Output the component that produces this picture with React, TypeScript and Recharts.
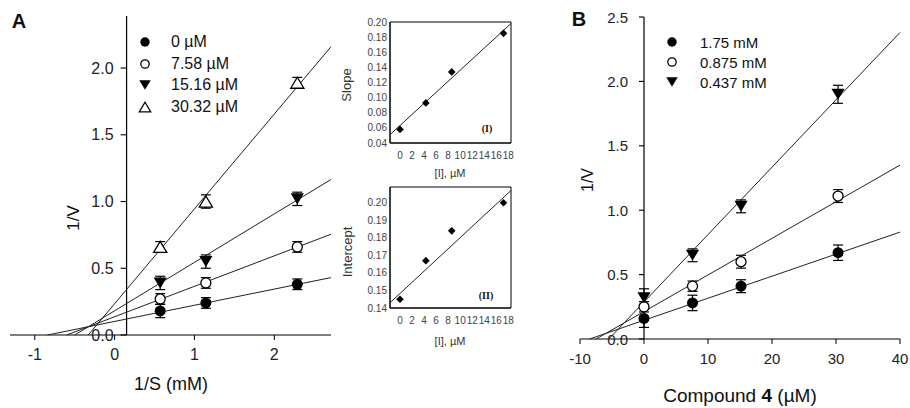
import React from 'react';
import { ScatterChart, Scatter, XAxis, YAxis, ErrorBar, ReferenceLine, ReferenceArea } from 'recharts';

const SANS = '"Liberation Sans", Arial, sans-serif';

// ---- panel A: 1/V vs 1/S at four inhibitor levels ----
const invSubstrate = [0.571, 1.143, 2.288];
const inhibitorNames = ['0 µM', '7.58 µM', '15.16 µM', '30.32 µM'];
const rateI0 = [0.18, 0.24, 0.38];
const rateI758 = [0.27, 0.39, 0.66];
const rateI1516 = [0.39, 0.55, 1.02];
const rateI3032 = [0.66, 1.0, 1.89];
const errI0 = [0.05, 0.04, 0.04];
const errI758 = [0.04, 0.04, 0.04];
const errI1516 = [0.05, 0.05, 0.05];
const errI3032 = [0.04, 0.05, 0.04];
// fitted lines: start / end points
const fitAX = [[-0.84, 2.71], [-0.6, 2.71], [-0.5, 2.71], [-0.33, 2.71]];
const fitAY = [[0, 0.43], [0, 0.755], [0, 1.165], [0, 2.16]];
const aXTicks = [-1, 0, 1, 2];
const aYTicks = [0, 0.5, 1, 1.5, 2];
const aXDomain = [-1.31, 2.71];
const aYDomain = [0, 2.39];
const aYAxisAt = 0.15;

// ---- insets: secondary plots ----
const insetConc = [0, 4.3, 8.6, 17.2];
const slopeVals = [0.058, 0.093, 0.134, 0.185];
const interceptVals = [0.145, 0.167, 0.184, 0.2];
const insetFitX = [-1.66, 18.45];
const slopeFitY = [0.051, 0.198];
const interceptFitY = [0.143, 0.207];
const insetXTicks = [0, 2, 4, 6, 8, 10, 12, 14, 16, 18];
const slopeTicks = [0.04, 0.06, 0.08, 0.1, 0.12, 0.14, 0.16, 0.18, 0.2];
const interceptTicks = [0.14, 0.15, 0.16, 0.17, 0.18, 0.19, 0.2];
const insetXDomain = [-1.66, 18.45];

// ---- panel B: 1/V vs compound 4 at three substrate levels ----
const compound = [0, 7.58, 15.16, 30.32];
const substrateNames = ['1.75 mM', '0.875 mM', '0.437 mM'];
const rateS175 = [0.16, 0.28, 0.41, 0.67];
const rateS0875 = [0.25, 0.41, 0.6, 1.11];
const rateS0437 = [0.32, 0.65, 1.03, 1.9];
const errS175 = [0.07, 0.06, 0.05, 0.06];
const errS0875 = [0.04, 0.04, 0.05, 0.05];
const errS0437 = [0.07, 0.05, 0.05, 0.07];
const fitBX = [[-8.5, 40], [-7.5, 40], [-5.5, 40]];
const fitBY = [[0, 0.83], [0, 1.35], [0, 2.38]];
const bXTicks = [-10, 0, 10, 20, 30, 40];
const bYTicks = [0, 0.5, 1, 1.5, 2, 2.5];
const bXDomain = [-10, 40];
const bYAxisAt = 0;

type Kind = 'dot' | 'ring' | 'down' | 'up' | 'diamond';

const toPts = (xs: number[], ys: number[], es?: number[]) =>
  xs.map((x, i) => ({ x, y: ys[i], err: es ? es[i] : 0 }));

const Marker = ({ kind, cx, cy, s = 6 }: { kind: Kind; cx: number; cy: number; s?: number }) => {
  if (kind === 'dot') return <circle cx={cx} cy={cy} r={s - 0.5} fill="#000" />;
  if (kind === 'ring') return <circle cx={cx} cy={cy} r={s - 1} fill="#fff" stroke="#000" strokeWidth={1.3} />;
  if (kind === 'diamond')
    return <polygon points={`${cx},${cy - s} ${cx + s},${cy} ${cx},${cy + s} ${cx - s},${cy}`} fill="#000" />;
  const h = s * 0.92;
  const w = s * 1.1;
  if (kind === 'down')
    return <polygon points={`${cx - w},${cy - h} ${cx + w},${cy - h} ${cx},${cy + h}`} fill="#000" />;
  return (
    <polygon
      points={`${cx - w},${cy + h} ${cx + w},${cy + h} ${cx},${cy - h}`}
      fill="#fff"
      stroke="#000"
      strokeWidth={1.3}
    />
  );
};

// y ticks drawn at an inner vertical axis (the axis does not sit on the plot edge)
const shiftedTick = (shift: number, len: number, gap: number, fs: number) => (p: any) => {
  const ax = p.x + shift;
  return (
    <g>
      <line x1={ax - len} x2={ax} y1={p.y} y2={p.y} stroke="#000" strokeWidth={1.1} />
      <text x={ax - len - gap} y={p.y} textAnchor="end" dominantBaseline="central" fontSize={fs} fill="#222">
        {Number(p.payload.value).toFixed(1)}
      </text>
    </g>
  );
};

const Txt = ({ x, y, size, rot, bold, serif, color = '#111', children }: any) => (
  <div
    style={{
      position: 'absolute',
      left: x,
      top: y,
      transform: `translate(-50%, -50%)${rot ? ` rotate(${rot}deg)` : ''}`,
      fontSize: size,
      fontWeight: bold ? 700 : 400,
      fontFamily: serif ? '"Liberation Serif", serif' : SANS,
      lineHeight: 1,
      whiteSpace: 'nowrap',
      color,
    }}
  >
    {children}
  </div>
);

const KeyBox = ({ left, top, rowH, gap, fs, names, kinds }: any) => (
  <div style={{ position: 'absolute', left, top, fontSize: fs, color: '#111' }}>
    {names.map((n: string, i: number) => (
      <div key={n} style={{ display: 'flex', alignItems: 'center', height: rowH }}>
        <svg width={14} height={14} style={{ display: 'block' }}>
          <Marker kind={kinds[i]} cx={7} cy={7} s={5.2} />
        </svg>
        <span style={{ marginLeft: gap, lineHeight: 1 }}>{n}</span>
      </div>
    ))}
  </div>
);

const emptyShape = () => <g />;
const lineStyle = { stroke: '#222', strokeWidth: 1 };

const PanelA = () => {
  const W = 345;
  const plotW = W - 10 - 14;
  const shift = ((aYAxisAt - aXDomain[0]) / (aXDomain[1] - aXDomain[0])) * plotW;
  const rates = [rateI0, rateI758, rateI1516, rateI3032];
  const errs = [errI0, errI758, errI1516, errI3032];
  const kinds: Kind[] = ['dot', 'ring', 'down', 'up'];
  return (
    <ScatterChart width={W} height={408} margin={{ top: 16, right: 14, bottom: 0, left: 0 }}>
      <XAxis
        type="number"
        dataKey="x"
        domain={aXDomain}
        ticks={aXTicks}
        interval={0}
        height={73}
        tickSize={5}
        tickMargin={9}
        axisLine={{ stroke: '#000', strokeWidth: 1.2 }}
        tickLine={{ stroke: '#000' }}
        tick={{ fontSize: 16, fill: '#222' }}
      />
      <YAxis
        type="number"
        dataKey="y"
        domain={aYDomain}
        ticks={aYTicks}
        interval={0}
        width={10}
        axisLine={false}
        tickLine={false}
        tickSize={0}
        tickMargin={0}
        tick={shiftedTick(shift, 6, 7, 16)}
      />
      <ReferenceLine x={aYAxisAt} stroke="#000" strokeWidth={1.2} />
      {fitAX.map((xs, i) => (
        <Scatter
          key={'fa' + i}
          data={toPts(xs, fitAY[i])}
          line={lineStyle}
          shape={emptyShape}
          legendType="none"
          isAnimationActive={false}
        />
      ))}
      {rates.map((r, i) => (
        <Scatter
          key={'pa' + i}
          name={inhibitorNames[i]}
          data={toPts(invSubstrate, r, errs[i])}
          shape={(p: any) => <Marker kind={kinds[i]} cx={p.cx} cy={p.cy} />}
          isAnimationActive={false}
        >
          <ErrorBar dataKey="err" direction="y" width={5} stroke="#000" strokeWidth={1.2} />
        </Scatter>
      ))}
    </ScatterChart>
  );
};

const Inset = ({ vals, ticks, domain, fitY }: any) => (
  <ScatterChart width={180} height={190} margin={{ top: 22, right: 9, bottom: 0, left: 10 }}>
    <XAxis
      type="number"
      dataKey="x"
      domain={insetXDomain}
      ticks={insetXTicks}
      interval={0}
      height={47}
      axisLine={{ stroke: '#000' }}
      tickLine={false}
      tickSize={4}
      tickMargin={5}
      tick={{ fontSize: 10, fill: '#444' }}
    />
    <YAxis
      type="number"
      dataKey="y"
      domain={domain}
      ticks={ticks}
      interval={0}
      width={40}
      axisLine={{ stroke: '#000' }}
      tickLine={false}
      tickSize={0}
      tickMargin={3}
      tick={{ fontSize: 10, fill: '#444' }}
      tickFormatter={(v: number) => v.toFixed(2)}
    />
    <ReferenceArea
      x1={insetXDomain[0]}
      x2={insetXDomain[1]}
      y1={domain[0]}
      y2={domain[1]}
      fill="none"
      fillOpacity={0}
      stroke="#000"
      strokeWidth={1}
    />
    <Scatter data={toPts(insetFitX, fitY)} line={lineStyle} shape={emptyShape} legendType="none" isAnimationActive={false} />
    <Scatter
      data={toPts(insetConc, vals)}
      shape={(p: any) => <Marker kind="diamond" cx={p.cx} cy={p.cy} s={3.8} />}
      isAnimationActive={false}
    />
  </ScatterChart>
);

const PanelB = () => {
  const W = 350;
  const plotW = W - 20 - 10;
  const shift = ((bYAxisAt - bXDomain[0]) / (bXDomain[1] - bXDomain[0])) * plotW;
  const rates = [rateS175, rateS0875, rateS0437];
  const errs = [errS175, errS0875, errS0437];
  const kinds: Kind[] = ['dot', 'ring', 'down'];
  return (
    <ScatterChart width={W} height={408} margin={{ top: 17, right: 10, bottom: 0, left: 0 }}>
      <XAxis
        type="number"
        dataKey="x"
        domain={bXDomain}
        ticks={bXTicks}
        interval={0}
        height={69}
        tickSize={5}
        tickMargin={9}
        axisLine={{ stroke: '#000', strokeWidth: 1.2 }}
        tickLine={{ stroke: '#000' }}
        tick={{ fontSize: 15, fill: '#222' }}
      />
      <YAxis
        type="number"
        dataKey="y"
        domain={[0, 2.5]}
        ticks={bYTicks}
        interval={0}
        width={20}
        axisLine={false}
        tickLine={false}
        tickSize={0}
        tickMargin={0}
        tick={shiftedTick(shift, 5, 11, 15)}
      />
      <ReferenceLine x={bYAxisAt} stroke="#000" strokeWidth={1.2} />
      {fitBX.map((xs, i) => (
        <Scatter
          key={'fb' + i}
          data={toPts(xs, fitBY[i])}
          line={lineStyle}
          shape={emptyShape}
          legendType="none"
          isAnimationActive={false}
        />
      ))}
      {rates.map((r, i) => (
        <Scatter
          key={'pb' + i}
          name={substrateNames[i]}
          data={toPts(compound, r, errs[i])}
          shape={(p: any) => <Marker kind={kinds[i]} cx={p.cx} cy={p.cy} />}
          isAnimationActive={false}
        >
          <ErrorBar dataKey="err" direction="y" width={5} stroke="#000" strokeWidth={1.2} />
        </Scatter>
      ))}
    </ScatterChart>
  );
};

export default function App() {
  return (
    <div
      style={{
        position: 'absolute',
        left: 0,
        top: 0,
        width: 910,
        height: 408,
        background: '#fff',
        fontFamily: SANS,
        overflow: 'hidden',
      }}
    >
      <div style={{ position: 'absolute', left: 0, top: 0 }}>
        <PanelA />
      </div>
      <div style={{ position: 'absolute', left: 340, top: 0 }}>
        <Inset vals={slopeVals} ticks={slopeTicks} domain={[0.04, 0.2]} fitY={slopeFitY} />
      </div>
      <div style={{ position: 'absolute', left: 340, top: 165 }}>
        <Inset vals={interceptVals} ticks={interceptTicks} domain={[0.14, 0.209]} fitY={interceptFitY} />
      </div>
      <div style={{ position: 'absolute', left: 560, top: 0 }}>
        <PanelB />
      </div>

      <KeyBox left={138} top={31} rowH={21.7} gap={19} fs={16} names={inhibitorNames} kinds={['dot', 'ring', 'down', 'up']} />
      <KeyBox left={665} top={32} rowH={20} gap={21} fs={15} names={substrateNames} kinds={['dot', 'ring', 'down']} />

      <Txt x={19} y={21} size={20} bold>A</Txt>
      <Txt x={579} y={19} size={20} bold>B</Txt>
      <Txt x={73} y={218} size={17} rot={-90}>1/V</Txt>
      <Txt x={588} y={180} size={16} rot={-90}>1/V</Txt>
      <Txt x={171} y={384} size={18}>1/S (mM)</Txt>
      <Txt x={740} y={395} size={19}>
        Compound <b>4</b> (µM)
      </Txt>
      <Txt x={346} y={85} size={13} rot={-90} color="#333">Slope</Txt>
      <Txt x={347} y={252} size={13} rot={-90} color="#333">Intercept</Txt>
      <Txt x={450} y={173} size={11} color="#333">[I], µM</Txt>
      <Txt x={450} y={341} size={11} color="#333">[I], µM</Txt>
      <Txt x={487} y={129} size={10} bold serif>(I)</Txt>
      <Txt x={486} y={296} size={10} bold serif>(II)</Txt>
    </div>
  );
}
